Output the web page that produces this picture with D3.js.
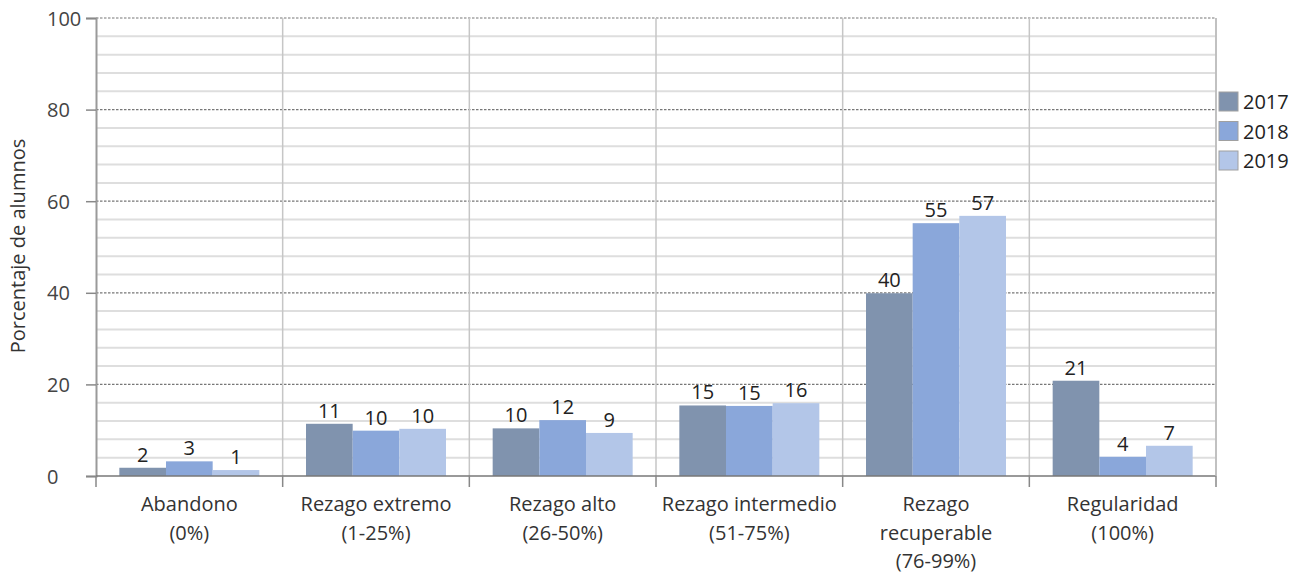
<!DOCTYPE html>
<html><head><meta charset="utf-8">
<script src="https://cdn.jsdelivr.net/npm/d3@7/dist/d3.min.js"></script>
<style>body{margin:0;background:#fff}svg{display:block}text{font-family:"Open Sans",sans-serif}</style>
</head><body><svg id="c" width="1301" height="574"></svg>
<script>
const categories = [["Abandono","(0%)"],["Rezago extremo","(1-25%)"],["Rezago alto","(26-50%)"],["Rezago intermedio","(51-75%)"],["Rezago","recuperable","(76-99%)"],["Regularidad","(100%)"]];
const years = ["2017","2018","2019"];
const v2017 = [1.8, 11.4, 10.4, 15.4, 39.9, 20.8];
const v2018 = [3.2, 9.9, 12.2, 15.3, 55.2, 4.2];
const v2019 = [1.3, 10.3, 9.4, 15.9, 56.8, 6.6];
const yTicks = [0,20,40,60,80,100];
const colors = ["#8093ae","#8aa7da","#b3c6e8"];
const series = [v2017, v2018, v2019];

const svg = d3.select("#c");
const L = 96, R = 1216, T = 18, B = 476;
const catKeys = categories.map((c,i)=>i);
const x = d3.scaleBand().domain(catKeys).range([L,R]).padding(0);
const xs = d3.scaleBand().domain(years).range([0,x.bandwidth()]).paddingInner(0).paddingOuter(0.5);
const y = d3.scaleLinear().domain([0,100]).range([B,T]);

// minor gridlines
const minor = d3.range(4,100,4).filter(v=>v%20!==0);
svg.append("g").selectAll("line").data(minor).join("line")
  .attr("x1",L).attr("x2",R).attr("y1",d=>y(d)).attr("y2",d=>y(d))
  .attr("stroke","#dedede").attr("stroke-width",2);
// major gridlines
svg.append("g").selectAll("line").data(yTicks.filter(v=>v>0)).join("line")
  .attr("x1",L).attr("x2",R).attr("y1",d=>y(d)).attr("y2",d=>y(d))
  .attr("stroke","#777").attr("stroke-width",1.2).attr("stroke-dasharray","2.5,1.5");
// vertical separators
const bounds = catKeys.map(i=>x(i)).concat([R]);
svg.append("g").selectAll("line").data(bounds.slice(1)).join("line")
  .attr("x1",d=>d).attr("x2",d=>d).attr("y1",T).attr("y2",B)
  .attr("stroke","#c6c6c6").attr("stroke-width",1.5);

// bars
series.forEach((vals,si)=>{
  svg.append("g").selectAll("rect").data(vals).join("rect")
    .attr("x",(d,i)=>x(i)+xs(years[si]))
    .attr("width",xs.bandwidth())
    .attr("y",d=>y(d)).attr("height",d=>B-y(d))
    .attr("fill",colors[si]);
  svg.append("g").selectAll("text").data(vals).join("text")
    .attr("x",(d,i)=>x(i)+xs(years[si])+xs.bandwidth()/2)
    .attr("y",d=>y(d)-6)
    .attr("text-anchor","middle").attr("font-size",20).attr("fill","#222")
    .text(d=>d3.format(".0f")(d));
});

// y axis
const ya = svg.append("g").attr("transform",`translate(${L},0)`)
  .call(d3.axisLeft(y).tickValues(yTicks).tickSize(10).tickPadding(0).tickFormat(d3.format("d")));
ya.select(".domain").attr("stroke","#9a9a9a").attr("stroke-width",2);
ya.selectAll(".tick line").attr("stroke","#888").attr("stroke-width",1.5);
ya.selectAll(".tick text").attr("text-anchor","start").attr("x",-49).attr("dy","0.35em")
  .attr("font-size",20).attr("fill","#444").attr("font-family","Open Sans");

// x axis
const xa = svg.append("g").attr("transform",`translate(0,${B})`);
xa.append("line").attr("x1",L).attr("x2",R).attr("y1",0).attr("y2",0).attr("stroke","#777").attr("stroke-width",1.5);
xa.selectAll("line.tk").data(bounds).join("line").attr("class","tk")
  .attr("x1",d=>d).attr("x2",d=>d).attr("y1",0).attr("y2",11).attr("stroke","#888").attr("stroke-width",1.5);
const cl = xa.selectAll("text.cat").data(categories).join("text").attr("class","cat")
  .attr("x",(d,i)=>x(i)+x.bandwidth()/2).attr("y",35)
  .attr("text-anchor","middle").attr("font-size",20).attr("fill","#333");
cl.selectAll("tspan").data(d=>d).join("tspan")
  .attr("x",function(){return this.parentNode.getAttribute("x");})
  .attr("dy",(d,i)=>i===0?0:28.5).text(d=>d);

// y title
svg.append("text").attr("transform","translate(25,246) rotate(-90)")
  .attr("text-anchor","middle").attr("font-size",20).attr("fill","#333").text("Porcentaje de alumnos");

// right border
svg.append("line").attr("x1",R).attr("x2",R).attr("y1",T).attr("y2",B).attr("stroke","#bbb").attr("stroke-width",1.5);

// legend
const lg = svg.append("g").selectAll("g").data(years).join("g")
  .attr("transform",(d,i)=>`translate(1219,${92+i*29.5})`);
lg.append("rect").attr("width",19).attr("height",19).attr("fill",(d,i)=>colors[i]).attr("stroke","#a0a0a0").attr("stroke-width",1);
lg.append("text").attr("x",24).attr("y",17).attr("font-size",20).attr("fill","#222").text(d=>d);
</script></body></html>
